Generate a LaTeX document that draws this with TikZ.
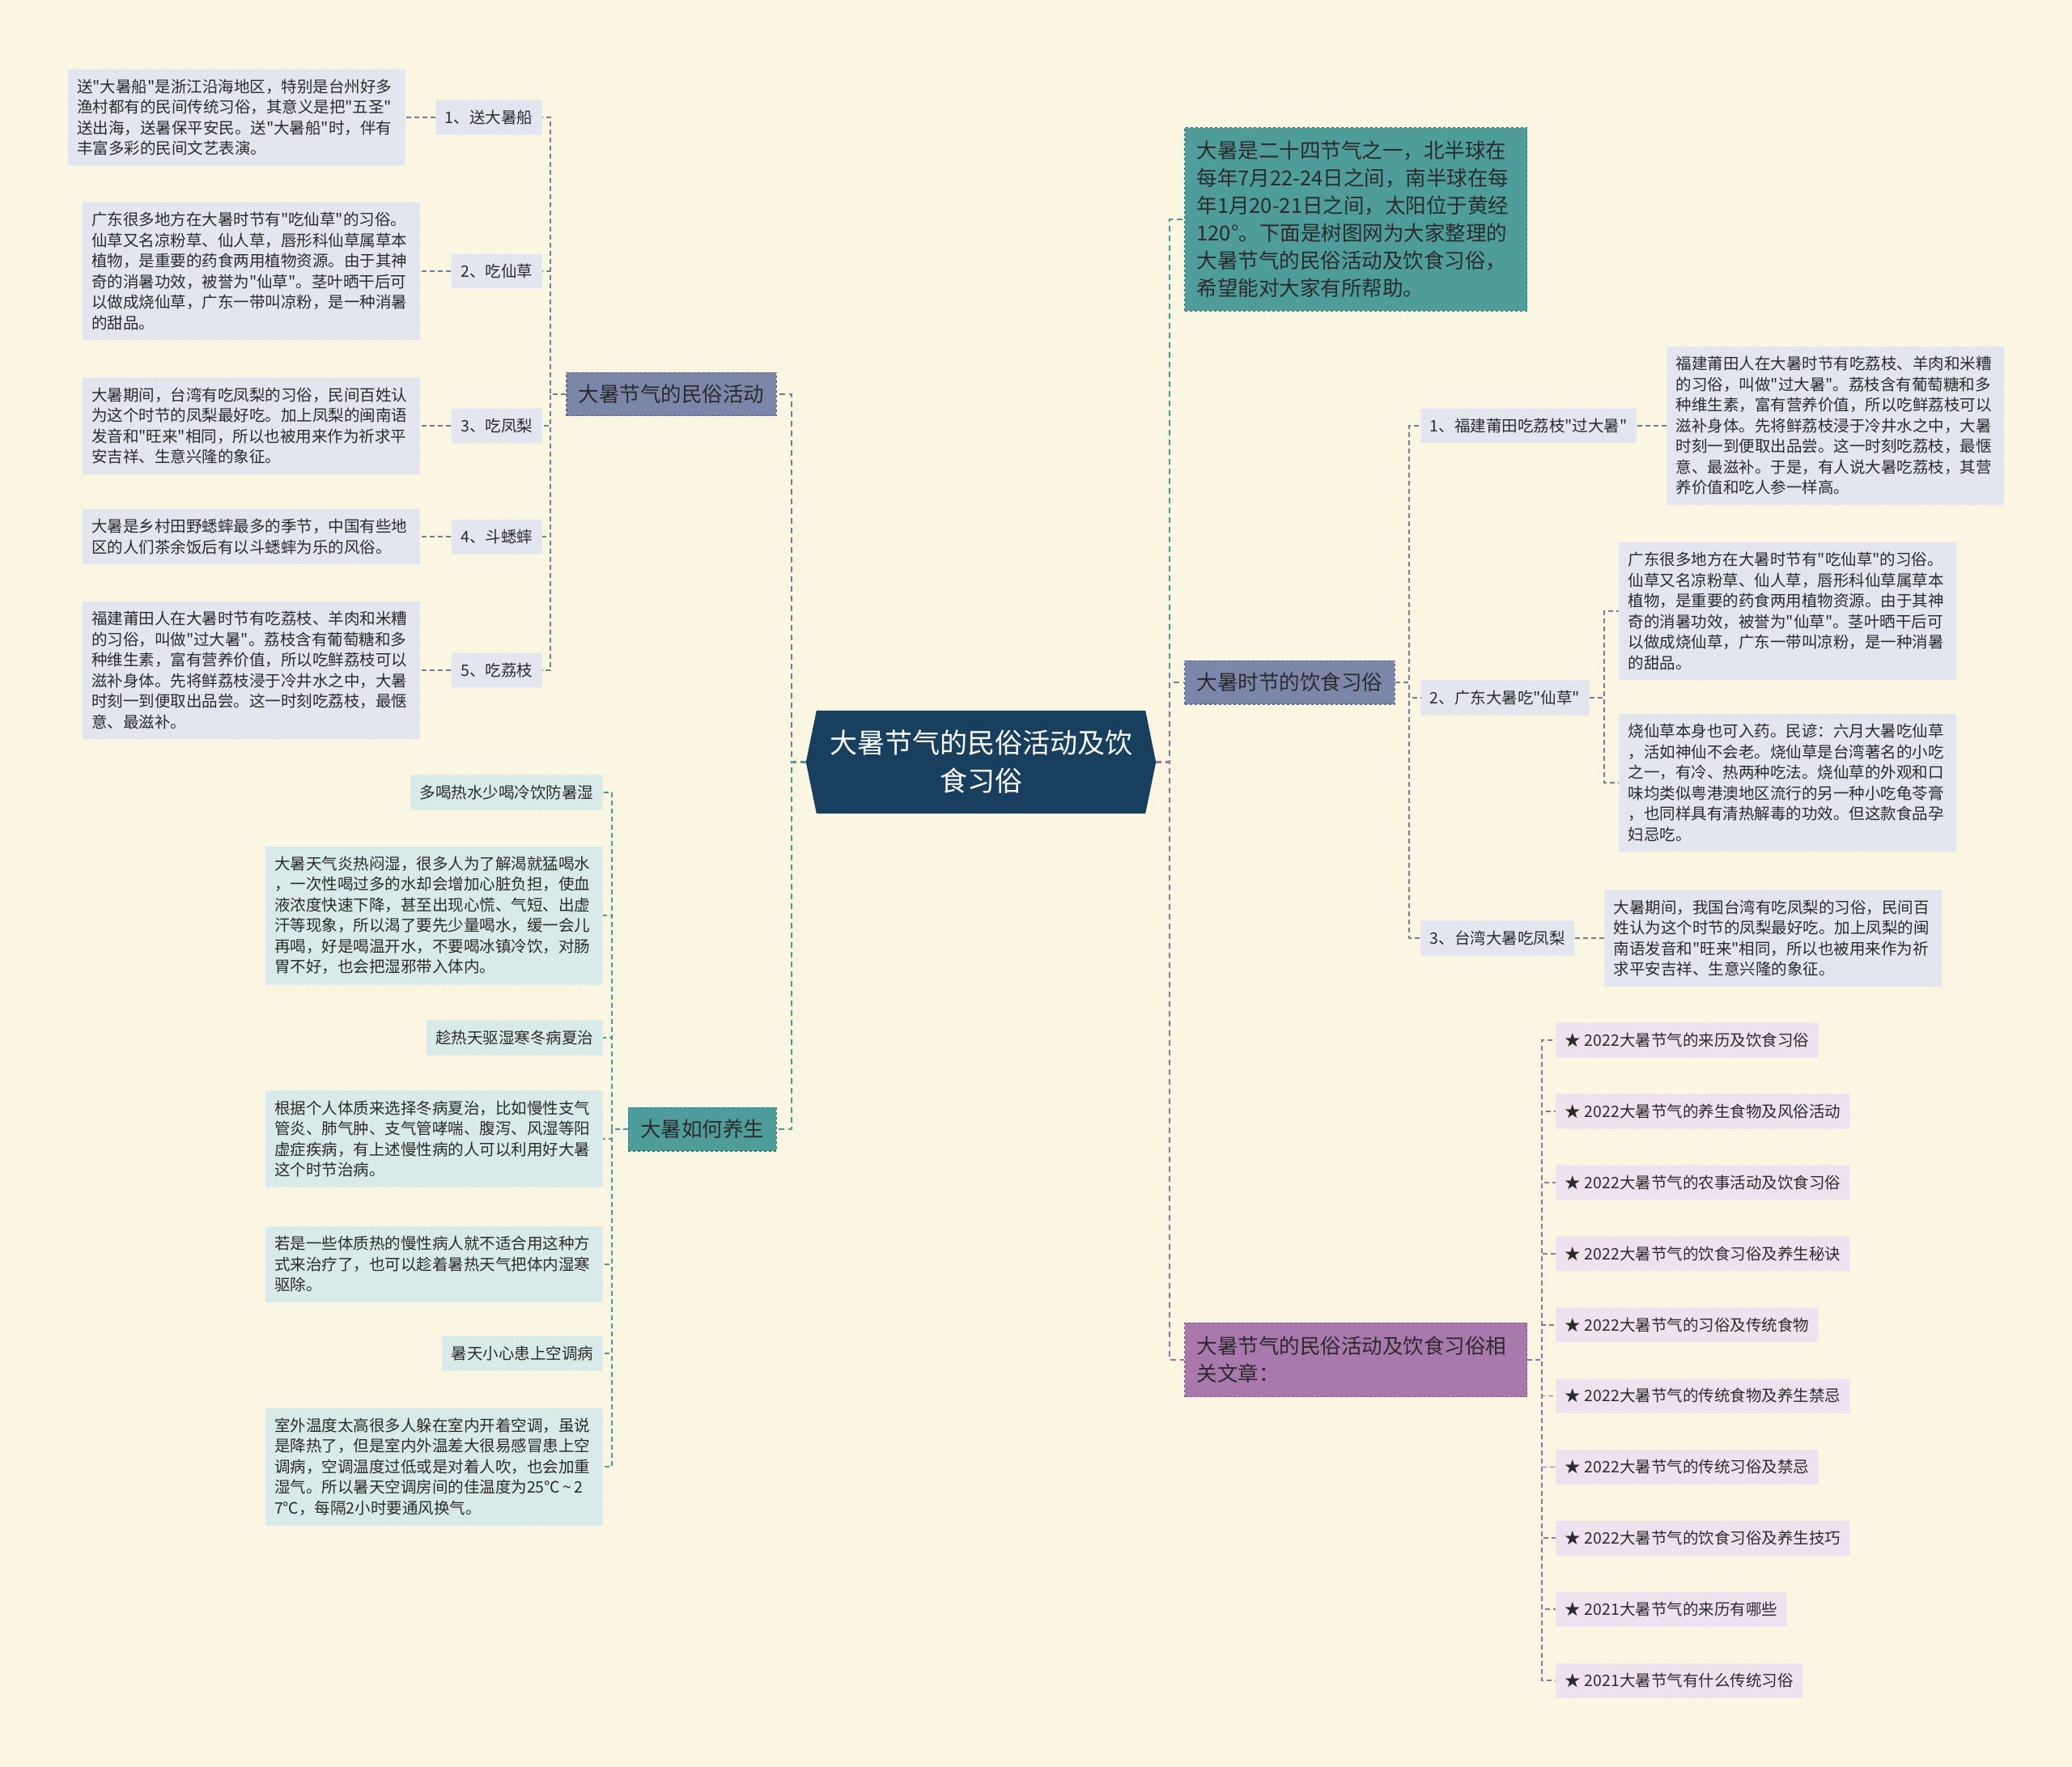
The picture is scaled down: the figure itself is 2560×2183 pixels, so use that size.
\documentclass[tikz,border=0pt]{standalone}
\usepackage{fontspec}
\newfontfamily\cjk{Noto Sans CJK SC}
\usepackage{tikz}
\usetikzlibrary{positioning, calc, backgrounds}
\definecolor{bgcream}{HTML}{FBF6E1}
\definecolor{rootblue}{HTML}{183F5E}
\definecolor{actfill}{HTML}{7B86A8}
\definecolor{tealfill}{HTML}{4E9D9B}
\definecolor{plumfill}{HTML}{A978AC}
\definecolor{greyfill}{HTML}{E3E6EF}
\definecolor{mintfill}{HTML}{D9EBE8}
\definecolor{plumlite}{HTML}{EEE2EE}
\definecolor{actline}{HTML}{717B9B}
\definecolor{tealline}{HTML}{4A9898}
\definecolor{plumline}{HTML}{9C70A2}
\definecolor{inkdark}{HTML}{2B2B2B}

\begin{document}
\begin{tikzpicture}[
  x=1pt, y=-1pt,
  box/.style={rectangle, inner xsep=11.5pt, inner ysep=12.5pt, font=\cjk\fontsize{19.5}{25.5}\selectfont, text=inkdark, align=left},
  tag/.style={box, fill=#1, draw=white!45!#1, dashed, line width=0.8pt},
  leaf/.style={tag=#1, text width=394pt},
  branch/.style={rectangle, fill=#1, draw=#1!75!black, dashed, line width=1.2pt, inner xsep=15pt, inner ysep=15pt, font=\cjk\fontsize{25.5}{34}\selectfont, text=inkdark, align=left},
  root/.style={minimum width=406pt, minimum height=127pt, inner sep=0pt, text=white, align=center, font=\cjk\fontsize{34}{47}\selectfont},
  link/.style={draw=#1, line width=2.4pt, dash pattern=on 7pt off 5pt},
  sublink/.style={draw=#1, line width=1.8pt, dash pattern=on 6pt off 4pt}
  ]
  \useasboundingbox (0,0) rectangle (2560,2183);
  % centre
  \node[root] (root) at (1212,941.5) {大暑节气的民俗活动及饮\\食习俗};
  \coordinate (rootW) at ($(root.west)+(-13,0)$);
  \coordinate (rootE) at ($(root.east)+(13,0)$);
  \coordinate (lt) at (978,941.5);
  \coordinate (rt) at (1445,941.5);
  \begin{scope}[on background layer]
  \fill[bgcream] (0,0) rectangle (2560,2183);
  \fill[rootblue] (root.north west) -- (root.north east) -- (rootE) -- (root.south east) -- (root.south west) -- (rootW) -- cycle;
  \end{scope}
  % branches
  \node[branch=actfill, anchor=east] (act) at (960,487) {大暑节气的民俗活动};
  \node[branch=tealfill, anchor=east] (care) at (960,1395) {大暑如何养生};
  \node[branch=tealfill, anchor=west, text width=393pt, inner ysep=16.5pt] (intro) at (1463,271) {大暑是二十四节气之一，北半球在\\每年7月22-24日之间，南半球在每\\年1月20-21日之间，太阳位于黄经\\120°。下面是树图网为大家整理的\\大暑节气的民俗活动及饮食习俗，\\希望能对大家有所帮助。};
  \node[branch=actfill, anchor=west] (food) at (1463,843) {大暑时节的饮食习俗};
  \node[branch=plumfill, anchor=west, text width=393pt, inner ysep=17pt] (rel) at (1463,1680) {大暑节气的民俗活动及饮食习俗相\\关文章：};
  % customs
  \node[tag=greyfill, anchor=east] (c1) at (670,145) {1、送大暑船};
  \node[tag=greyfill, anchor=east] (c2) at (670,335) {2、吃仙草};
  \node[tag=greyfill, anchor=east] (c3) at (670,526) {3、吃凤梨};
  \node[tag=greyfill, anchor=east] (c4) at (670,663) {4、斗蟋蟀};
  \node[tag=greyfill, anchor=east] (c5) at (670,828) {5、吃荔枝};
  \node[leaf=greyfill, anchor=east] (ct1) at (501,145) {送"大暑船"是浙江沿海地区，特别是台州好多\\渔村都有的民间传统习俗，其意义是把"五圣"\\送出海，送暑保平安民。送"大暑船"时，伴有\\丰富多彩的民间文艺表演。};
  \node[leaf=greyfill, anchor=east] (ct2) at (519,335) {广东很多地方在大暑时节有"吃仙草"的习俗。\\仙草又名凉粉草、仙人草，唇形科仙草属草本\\植物，是重要的药食两用植物资源。由于其神\\奇的消暑功效，被誉为"仙草"。茎叶晒干后可\\以做成烧仙草，广东一带叫凉粉，是一种消暑\\的甜品。};
  \node[leaf=greyfill, anchor=east] (ct3) at (519,526) {大暑期间，台湾有吃凤梨的习俗，民间百姓认\\为这个时节的凤梨最好吃。加上凤梨的闽南语\\发音和"旺来"相同，所以也被用来作为祈求平\\安吉祥、生意兴隆的象征。};
  \node[leaf=greyfill, anchor=east] (ct4) at (519,663) {大暑是乡村田野蟋蟀最多的季节，中国有些地\\区的人们茶余饭后有以斗蟋蟀为乐的风俗。};
  \node[leaf=greyfill, anchor=east] (ct5) at (519,828) {福建莆田人在大暑时节有吃荔枝、羊肉和米糟\\的习俗，叫做"过大暑"。荔枝含有葡萄糖和多\\种维生素，富有营养价值，所以吃鲜荔枝可以\\滋补身体。先将鲜荔枝浸于冷井水之中，大暑\\时刻一到便取出品尝。这一时刻吃荔枝，最惬\\意、最滋补。};
  % health
  \node[tag=mintfill, anchor=east] (k1) at (745,979) {多喝热水少喝冷饮防暑湿};
  \node[leaf=mintfill, anchor=east] (k2) at (745,1131) {大暑天气炎热闷湿，很多人为了解渴就猛喝水\\，一次性喝过多的水却会增加心脏负担，使血\\液浓度快速下降，甚至出现心慌、气短、出虚\\汗等现象，所以渴了要先少量喝水，缓一会儿\\再喝，好是喝温开水，不要喝冰镇冷饮，对肠\\胃不好，也会把湿邪带入体内。};
  \node[tag=mintfill, anchor=east] (k3) at (745,1282) {趁热天驱湿寒冬病夏治};
  \node[leaf=mintfill, anchor=east] (k4) at (745,1407) {根据个人体质来选择冬病夏治，比如慢性支气\\管炎、肺气肿、支气管哮喘、腹泻、风湿等阳\\虚症疾病，有上述慢性病的人可以利用好大暑\\这个时节治病。};
  \node[leaf=mintfill, anchor=east] (k5) at (745,1562) {若是一些体质热的慢性病人就不适合用这种方\\式来治疗了，也可以趁着暑热天气把体内湿寒\\驱除。};
  \node[tag=mintfill, anchor=east] (k6) at (745,1672) {暑天小心患上空调病};
  \node[leaf=mintfill, anchor=east] (k7) at (745,1812) {室外温度太高很多人躲在室内开着空调，虽说\\是降热了，但是室内外温差大很易感冒患上空\\调病，空调温度过低或是对着人吹，也会加重\\湿气。所以暑天空调房间的佳温度为25℃\,\textasciitilde\,2\\7℃，每隔2小时要通风换气。};
  % food
  \node[tag=greyfill, anchor=west] (f1) at (1755,526) {1、福建莆田吃荔枝"过大暑"};
  \node[tag=greyfill, anchor=west] (f2) at (1755,862) {2、广东大暑吃"仙草"};
  \node[tag=greyfill, anchor=west] (f3) at (1755,1159) {3、台湾大暑吃凤梨};
  \node[leaf=greyfill, anchor=west] (ft1) at (2059,526) {福建莆田人在大暑时节有吃荔枝、羊肉和米糟\\的习俗，叫做"过大暑"。荔枝含有葡萄糖和多\\种维生素，富有营养价值，所以吃鲜荔枝可以\\滋补身体。先将鲜荔枝浸于冷井水之中，大暑\\时刻一到便取出品尝。这一时刻吃荔枝，最惬\\意、最滋补。于是，有人说大暑吃荔枝，其营\\养价值和吃人参一样高。};
  \node[leaf=greyfill, anchor=west] (ft2a) at (2000,755) {广东很多地方在大暑时节有"吃仙草"的习俗。\\仙草又名凉粉草、仙人草，唇形科仙草属草本\\植物，是重要的药食两用植物资源。由于其神\\奇的消暑功效，被誉为"仙草"。茎叶晒干后可\\以做成烧仙草，广东一带叫凉粉，是一种消暑\\的甜品。};
  \node[leaf=greyfill, anchor=west] (ft2b) at (2000,967) {烧仙草本身也可入药。民谚：六月大暑吃仙草\\，活如神仙不会老。烧仙草是台湾著名的小吃\\之一，有冷、热两种吃法。烧仙草的外观和口\\味均类似粤港澳地区流行的另一种小吃龟苓膏\\，也同样具有清热解毒的功效。但这款食品孕\\妇忌吃。};
  \node[leaf=greyfill, anchor=west] (ft3) at (1982,1159) {大暑期间，我国台湾有吃凤梨的习俗，民间百\\姓认为这个时节的凤梨最好吃。加上凤梨的闽\\南语发音和"旺来"相同，所以也被用来作为祈\\求平安吉祥、生意兴隆的象征。};
  % related articles
  \foreach \t [count=\i from 0] in {2022大暑节气的来历及饮食习俗, 2022大暑节气的养生食物及风俗活动, 2022大暑节气的农事活动及饮食习俗, 2022大暑节气的饮食习俗及养生秘诀, 2022大暑节气的习俗及传统食物, 2022大暑节气的传统食物及养生禁忌, 2022大暑节气的传统习俗及禁忌, 2022大暑节气的饮食习俗及养生技巧, 2021大暑节气的来历有哪些, 2021大暑节气有什么传统习俗}
    \node[tag=plumlite, anchor=west] (r\i) at (1922,{1285+87.9*\i}) {★ \t};
  % links
  \draw[link=actline] (rootW) -- (lt) |- (act.east);
  \draw[link=tealline] (rootW) -- (lt) |- (care.east);
  \draw[link=tealline] (rootE) -- (rt) |- (intro.west);
  \draw[link=actline] (rootE) -- (rt) |- (food.west);
  \draw[link=plumline] (rootE) -- (rt) |- (rel.west);
  \foreach \n in {1,...,5} {
    \draw[sublink=actline] (act.west) -- ++(-19,0) |- (c\n.east);
    \draw[sublink=actline] (c\n.west) -- (ct\n.east);
  }
  \foreach \n in {1,...,7}
    \draw[sublink=tealline] (care.west) -- ++(-20,0) |- (k\n.east);
  \foreach \n in {1,2,3}
    \draw[sublink=actline] (food.east) -- ++(17,0) |- (f\n.west);
  \draw[sublink=actline] (f1.east) -- (ft1.west);
  \draw[sublink=actline] (f2.east) -- ++(18,0) |- (ft2a.west);
  \draw[sublink=actline] (f2.east) -- ++(18,0) |- (ft2b.west);
  \draw[sublink=actline] (f3.east) -- (ft3.west);
  \foreach \i in {0,...,9}
    \draw[sublink=plumline] (rel.east) -- ++(18,0) |- (r\i.west);
\end{tikzpicture}
\end{document}
